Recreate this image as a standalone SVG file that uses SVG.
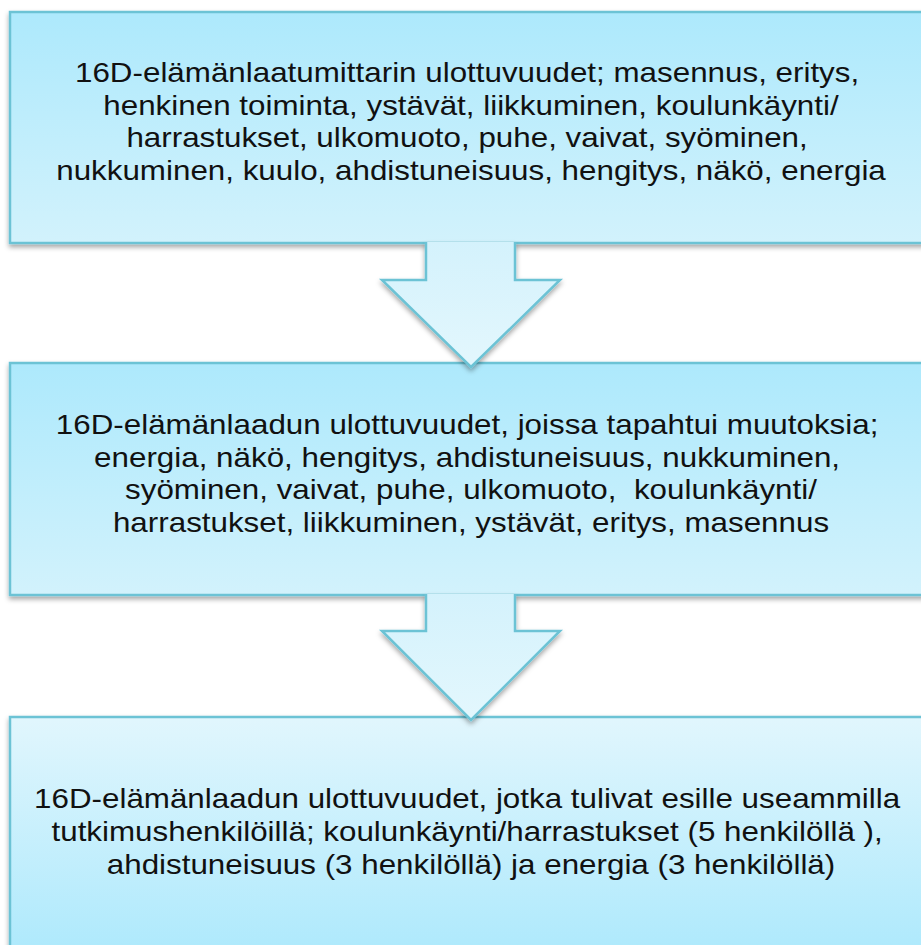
<svg xmlns="http://www.w3.org/2000/svg" width="921" height="945" viewBox="0 0 921 945">
<style>
.box{stroke:#6cc3d5;stroke-width:2.5;}
.arrow{stroke:#6cc3d5;stroke-width:2.5;stroke-linejoin:miter;fill:url(#ga);}
.t{font-family:"Liberation Sans",Arial,sans-serif;font-size:28px;fill:#111;text-anchor:middle;white-space:pre;}
</style>
<defs>
<linearGradient id="g1" x1="0" y1="0" x2="0" y2="1"><stop offset="0" stop-color="#ade9fc"/><stop offset="1" stop-color="#d2f2fc"/></linearGradient>
<linearGradient id="g3" x1="0" y1="0" x2="0" y2="1"><stop offset="0" stop-color="#e1f6fd"/><stop offset="1" stop-color="#ade9fc"/></linearGradient>
<linearGradient id="ga" x1="0" y1="0" x2="0" y2="1"><stop offset="0" stop-color="#d4f2fc"/><stop offset="1" stop-color="#e3f7fd"/></linearGradient>
<filter id="sh" x="-5%" y="-5%" width="110%" height="115%"><feDropShadow dx="0" dy="3" stdDeviation="2.5" flood-color="#000" flood-opacity="0.35"/></filter>
</defs>
<g id="node1">
<rect class="box" x="10" y="12" width="924" height="231" fill="url(#g1)" filter="url(#sh)"/>
<g transform="translate(471 0) scale(1.12 1)">
<text class="t" x="-3.5" y="82">16D-elämänlaatumittarin ulottuvuudet; masennus, eritys,</text>
<text class="t" x="0" y="114.7">henkinen toiminta, ystävät, liikkuminen, koulunkäynti/</text>
<text class="t" x="-3.5" y="147.4">harrastukset, ulkomuoto, puhe, vaivat, syöminen,</text>
<text class="t" x="0" y="180.1">nukkuminen, kuulo, ahdistuneisuus, hengitys, näkö, energia</text>
</g>
</g>
<g id="node2">
<rect class="box" x="10" y="363" width="924" height="232" fill="url(#g1)" filter="url(#sh)"/>
<g transform="translate(471 0) scale(1.12 1)">
<text class="t" x="-3.5" y="434">16D-elämänlaadun ulottuvuudet, joissa tapahtui muutoksia;</text>
<text class="t" x="-3.5" y="466.7">energia, näkö, hengitys, ahdistuneisuus, nukkuminen,</text>
<text class="t" x="0" y="499.4">syöminen, vaivat, puhe, ulkomuoto,  koulunkäynti/</text>
<text class="t" x="0" y="532.1">harrastukset, liikkuminen, ystävät, eritys, masennus</text>
</g>
</g>
<g id="node3">
<rect class="box" x="10" y="717" width="924" height="240" fill="url(#g3)" filter="url(#sh)"/>
<g transform="translate(471 0) scale(1.12 1)">
<text class="t" x="-3.5" y="808">16D-elämänlaadun ulottuvuudet, jotka tulivat esille useammilla</text>
<text class="t" x="-3.5" y="841">tutkimushenkilöillä; koulunkäynti/harrastukset (5 henkilöllä ),</text>
<text class="t" x="0" y="874">ahdistuneisuus (3 henkilöllä) ja energia (3 henkilöllä)</text>
</g>
</g>
<g id="connectors">
<path class="arrow" filter="url(#sh)" d="M426 242 L426 280 L382 280 L471 367 L560 280 L515 280 L515 242"/>
<path class="arrow" filter="url(#sh)" d="M426 594 L426 631 L382 631 L471 720 L560 631 L515 631 L515 594"/>
</g>
</svg>
